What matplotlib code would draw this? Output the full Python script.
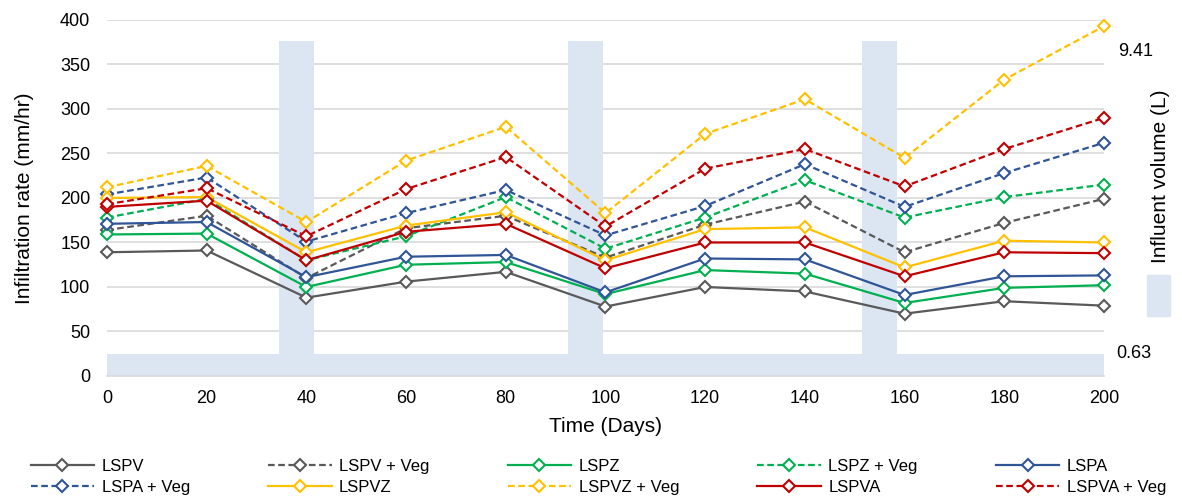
import numpy as np
import matplotlib.pyplot as plt
from matplotlib.patches import Rectangle
from matplotlib.transforms import blended_transform_factory

plt.rcParams['font.family'] = ['Liberation Sans', 'DejaVu Sans']

# --- datos ---
dias = [0, 20, 40, 60, 80, 100, 120, 140, 160, 180, 200]

series = ['LSPV', 'LSPV + Veg', 'LSPZ', 'LSPZ + Veg', 'LSPA',
          'LSPA + Veg', 'LSPVZ', 'LSPVZ + Veg', 'LSPVA', 'LSPVA + Veg']

lspv = [139, 141, 88, 106, 117, 78, 100, 95, 70, 84, 79]
lspv_veg = [164, 180, 110, 166, 180, 133, 170, 196, 139, 172, 199]
lspz = [159, 160, 100, 125, 128, 92, 119, 115, 82, 99, 102]
lspz_veg = [178, 199, 130, 157, 201, 143, 178, 220, 178, 201, 215]
lspa = [171, 173, 111, 134, 136, 94, 132, 131, 91, 112, 113]
lspa_veg = [204, 223, 151, 183, 209, 158, 191, 238, 190, 228, 262]
lspvz = [200, 201, 139, 169, 184, 130, 165, 167, 122, 152, 150]
lspvz_veg = [212, 236, 173, 242, 280, 183, 272, 311, 245, 333, 393]
lspva = [190, 197, 130, 162, 171, 121, 150, 150, 112, 139, 138]
lspva_veg = [193, 211, 157, 210, 246, 168, 233, 255, 213, 255, 290]

valores = [lspv, lspv_veg, lspz, lspz_veg, lspa,
           lspa_veg, lspvz, lspvz_veg, lspva, lspva_veg]

# volumen de entrada diario (L)
vol_base = 0.63
vol_tormenta = 9.41
dias_tormenta = list(range(35, 42)) + list(range(93, 100)) + list(range(152, 159))
dias_vol = np.arange(0, 201)
volumen = np.array([vol_tormenta if d in dias_tormenta else vol_base for d in dias_vol])

colores = ['#595959', '#595959', '#00B050', '#00B050', '#2F5597',
           '#2F5597', '#FFC000', '#FFC000', '#C00000', '#C00000']
estilos = ['-', (0, (3, 1.6))] * 5

# --- figura ---
fig = plt.figure(figsize=(11.82, 4.97), dpi=100)
ax = fig.add_axes([0.0905, 0.2435, 0.8435, 0.7163])
ax2 = ax.twinx()
ax.set_zorder(ax2.get_zorder() + 1)
ax.patch.set_visible(False)

# barras de volumen (eje secundario)
ax2.bar(dias_vol, volumen, width=1.0, color='#DCE6F2', zorder=2)
ax2.set_ylim(0, 10)
ax2.set_yticks(np.linspace(0, 10, 9))
ax2.yaxis.grid(True, color='#D9D9D9', lw=1.2)
ax2.set_axisbelow(True)
ax2.tick_params(right=False, labelright=False)
for s in ax2.spines.values():
    s.set_visible(False)
tr = blended_transform_factory(ax2.transAxes, ax2.transData)
ax2.text(1.014, vol_tormenta - 0.05, f'{vol_tormenta:.2f}', transform=tr,
         ha='left', va='top', fontsize=13)
ax2.text(1.012, vol_base, f'{vol_base:.2f}', transform=tr,
         ha='left', va='center', fontsize=13)

# lineas de infiltracion
lineas = []
for nombre, vals, c, ls in zip(series, valores, colores, estilos):
    l, = ax.plot(dias, vals, color=c, ls=ls, lw=1.6, marker='D', ms=6.5,
                 mfc='white', mec=c, mew=1.5, label=nombre, clip_on=False)
    lineas.append(l)

ax.set_xlim(0, 200)
ax.set_ylim(0, 400)
ax.set_xticks(dias)
ax.set_yticks(np.arange(0, 401, 50))
ax.tick_params(length=0, labelsize=13)
ax.tick_params(axis='x', pad=10)
ax.tick_params(axis='y', pad=12)
for lado in ['top', 'right', 'left']:
    ax.spines[lado].set_visible(False)
ax.spines['bottom'].set_color('#D9D9D9')
ax.spines['bottom'].set_linewidth(1.2)

ax.set_xlabel('Time (Days)', fontsize=15, labelpad=7)
ax.set_ylabel('Infiltration rate (mm/hr)', fontsize=15, labelpad=19)

# etiqueta del eje secundario con su muestra de color
fig.text(0.9815, 0.645, 'Influent volume (L)', rotation=90, fontsize=15,
         ha='center', va='center')
fig.add_artist(Rectangle((1147 / 1182, 1 - 316 / 497), 23 / 1182, 41 / 497,
                         transform=fig.transFigure, color='#DCE6F2'))

# leyenda: orden por filas
orden = [0, 5, 1, 6, 2, 7, 3, 8, 4, 9]
ax.legend([lineas[i] for i in orden], [series[i] for i in orden],
          ncol=5, loc='upper center', bbox_to_anchor=(0.493, -0.215),
          frameon=False, fontsize=12, handlelength=3.8, handletextpad=0.45,
          columnspacing=4.7, labelspacing=0.35, borderaxespad=0)

plt.savefig('out.png', dpi=100)
